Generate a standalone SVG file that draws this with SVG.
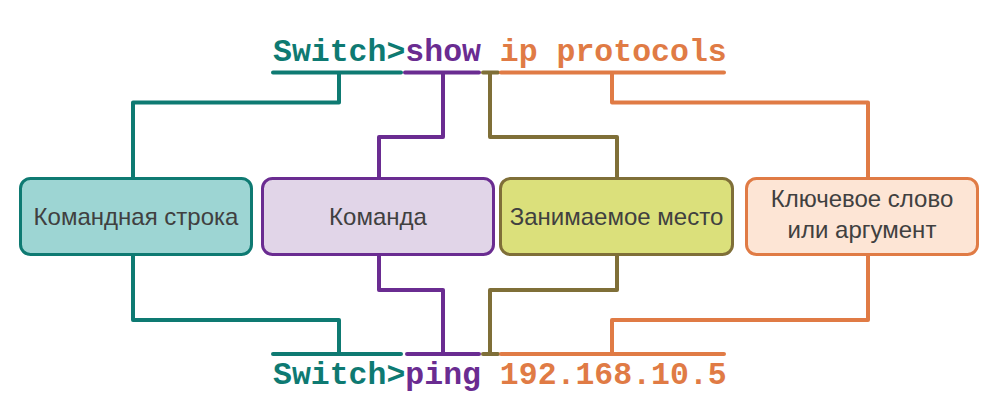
<svg xmlns="http://www.w3.org/2000/svg" width="999" height="417" viewBox="0 0 999 417">
<style>
.cmd{font-family:"Liberation Mono","Courier New",monospace;font-weight:bold;font-size:31.5px}
.lbl{font-family:"Liberation Sans",Arial,sans-serif;font-size:24px;fill:#404040;text-anchor:middle}
.ln{fill:none;stroke-width:4;stroke-linecap:round;stroke-linejoin:round}
.t{stroke:#0e7a72}.p{stroke:#6a2c91}.o{stroke:#7f6f38}.r{stroke:#e07b45}
.box{stroke-width:3}
</style>
<rect width="999" height="417" fill="#fff"/>
<g id="top-command">
<text class="cmd" x="273" y="61"><tspan fill="#0e7a72">Switch&gt;</tspan><tspan fill="#6a2c91">show</tspan><tspan fill="#e07b45"> ip protocols</tspan></text>
</g>
<g id="bottom-command">
<text class="cmd" x="273" y="384"><tspan fill="#0e7a72">Switch&gt;</tspan><tspan fill="#6a2c91">ping</tspan><tspan fill="#e07b45"> 192.168.10.5</tspan></text>
</g>
<g id="connectors">
<path class="ln t" d="M273 72.5H401M339 72.5V102.5H133V180"/>
<path class="ln p" d="M405 72.5H479M443 72.5V137H379V180"/>
<path class="ln o" d="M483 72.5H498M490 72.5V137H617V180"/>
<path class="ln r" d="M501 72.5H724M612 72.5V102.5H868V180"/>
<path class="ln t" d="M273 354H401M133 255V320H339V354"/>
<path class="ln p" d="M407 354H479M379 255V290H443V354"/>
<path class="ln o" d="M483 354H498M617 255V290H490V354"/>
<path class="ln r" d="M501 354H724M868 255V320H612V354"/>
</g>
<g id="node-prompt">
<rect class="box" x="20.5" y="178.5" width="231" height="76" rx="10" fill="#9dd5d3" stroke="#0e7a72"/>
<text class="lbl" x="136" y="225">Командная строка</text>
</g>
<g id="node-command">
<rect class="box" x="262.5" y="178.5" width="231" height="76" rx="10" fill="#e1d5e8" stroke="#6a2c91"/>
<text class="lbl" x="378" y="225">Команда</text>
</g>
<g id="node-placeholder">
<rect class="box" x="500.5" y="178.5" width="232" height="76" rx="10" fill="#dbe07b" stroke="#7f6f38"/>
<text class="lbl" x="616.5" y="225">Занимаемое место</text>
</g>
<g id="node-keyword">
<rect class="box" x="746.5" y="178.5" width="231" height="76" rx="10" fill="#fde5d5" stroke="#e07b45"/>
<text class="lbl" x="862" y="207">Ключевое слово</text>
<text class="lbl" x="862" y="238">или аргумент</text>
</g>
</svg>
